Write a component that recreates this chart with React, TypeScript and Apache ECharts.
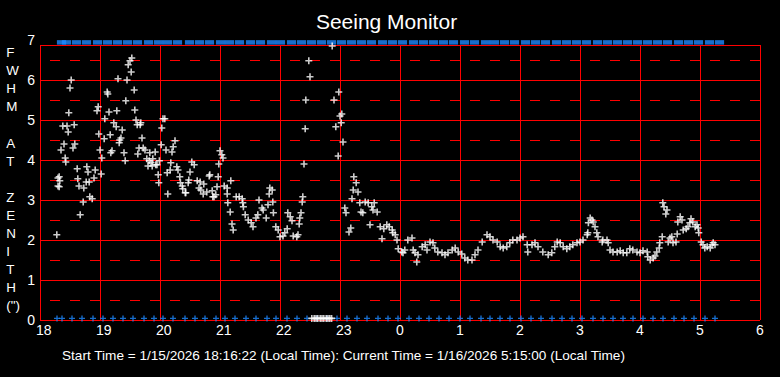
import React, { useEffect, useRef } from 'react';
import * as echarts from 'echarts';

const FONT = "'Liberation Sans', Arial, Helvetica, sans-serif";
const TITLE = 'Seeing Monitor';
const Y_TITLE_LINES = ['F', 'W', 'H', 'M', '', 'A', 'T', '', 'Z', 'E', 'N', 'I', 'T', 'H', '(")'];
const FOOTER = 'Start Time = 1/15/2026 18:16:22 (Local Time): Current Time = 1/16/2026 5:15:00 (Local Time)';

const xTickLabels = ['18', '19', '20', '21', '22', '23', '0', '1', '2', '3', '4', '5', '6'];
const yTickLabels = ['0', '1', '2', '3', '4', '5', '6', '7'];

// hours since midnight of start day (after midnight => +24)
const fwhmTimes = [
  18.28, 18.30, 18.30, 18.32, 18.32, 18.33, 18.35, 18.38, 18.40, 18.42, 18.43, 18.45, 18.47, 18.48, 18.50, 18.52,
  18.55, 18.57, 18.58, 18.62, 18.63, 18.65, 18.67, 18.72, 18.73, 18.77, 18.78, 18.80, 18.82, 18.83, 18.87, 18.90,
  18.92, 18.95, 18.97, 18.98, 19.00, 19.02, 19.03, 19.07, 19.08, 19.12, 19.13, 19.15, 19.17, 19.18, 19.20, 19.23,
  19.27, 19.28, 19.30, 19.32, 19.33, 19.35, 19.37, 19.40, 19.42, 19.43, 19.45, 19.47, 19.50, 19.52, 19.53, 19.57,
  19.58, 19.60, 19.62, 19.63, 19.65, 19.67, 19.68, 19.70, 19.72, 19.75, 19.78, 19.80, 19.82, 19.83, 19.85, 19.87,
  19.88, 19.92, 19.93, 19.95, 19.97, 19.98, 19.99, 20.02, 20.03, 20.05, 20.08, 20.10, 20.12, 20.13, 20.17, 20.18,
  20.20, 20.22, 20.25, 20.28, 20.30, 20.33, 20.34, 20.37, 20.38, 20.42, 20.43, 20.47, 20.48, 20.50, 20.53, 20.57,
  20.62, 20.65, 20.67, 20.68, 20.72, 20.73, 20.78, 20.82, 20.83, 20.87, 20.88, 20.90, 20.93, 20.95, 20.97, 20.98,
  21.00, 21.03, 21.05, 21.07, 21.12, 21.12, 21.13, 21.17, 21.18, 21.20, 21.22, 21.27, 21.32, 21.37, 21.38, 21.39,
  21.42, 21.47, 21.52, 21.55, 21.60, 21.63, 21.65, 21.70, 21.72, 21.77, 21.80, 21.82, 21.83, 21.87, 21.88, 21.89,
  21.93, 21.97, 22.00, 22.05, 22.08, 22.12, 22.13, 22.17, 22.20, 22.22, 22.28, 22.30, 22.32, 22.33, 22.35, 22.37,
  22.38, 22.40, 22.42, 22.43, 22.48, 22.50,
  22.53, 22.57, 22.60, 22.63, 22.67, 22.70, 22.73, 22.77, 22.80, 22.83, 22.86,
  22.87, 22.90, 22.93, 22.97, 22.98, 23.00, 23.02, 23.03, 23.05, 23.08, 23.10, 23.15, 23.18, 23.20, 23.22, 23.23,
  23.27, 23.30, 23.33, 23.35, 23.38, 23.42, 23.47, 23.50, 23.53, 23.55, 23.57, 23.62, 23.67, 23.70, 23.73, 23.78,
  23.82, 23.87, 23.88, 23.92, 23.95, 23.97, 24.03, 24.05, 24.08, 24.13, 24.20, 24.22, 24.25, 24.28, 24.30, 24.37,
  24.42, 24.45, 24.50, 24.55, 24.58, 24.63, 24.70, 24.75, 24.80, 24.87, 24.92, 24.97, 25.03, 25.08, 25.13, 25.20,
  25.25, 25.30, 25.37, 25.45, 25.50, 25.55, 25.62, 25.67, 25.72, 25.78, 25.83, 25.88, 25.95, 26.00, 26.05, 26.12,
  26.13, 26.20, 26.25, 26.30, 26.38, 26.47, 26.53, 26.58, 26.62, 26.67, 26.72, 26.78, 26.83, 26.88, 26.95, 27.00,
  27.05, 27.12, 27.13, 27.14, 27.17, 27.20, 27.22, 27.25, 27.28, 27.30, 27.37, 27.38, 27.45, 27.47, 27.50, 27.55,
  27.62, 27.67, 27.72, 27.78, 27.83, 27.88, 27.95, 28.00, 28.05, 28.12, 28.13, 28.17, 28.22, 28.25, 28.28, 28.32,
  28.33, 28.37, 28.38, 28.40, 28.43, 28.45, 28.47, 28.50, 28.53, 28.55, 28.60, 28.62, 28.63, 28.67, 28.70, 28.72,
  28.77, 28.80, 28.83, 28.85, 28.88, 28.92, 28.95, 28.97, 28.98, 29.02, 29.05, 29.08, 29.12, 29.17, 29.20, 29.22,
  29.25,
];

const fwhmValues = [
  2.13, 3.55, 3.35, 3.58, 3.33, 3.48, 4.25, 4.85, 4.40, 4.05, 3.95, 4.85, 4.70, 5.18, 5.80, 6.00,
  4.30, 4.88, 4.40, 3.78, 3.53, 3.35, 2.63, 2.95, 3.30, 3.45, 3.83, 3.70, 3.45, 3.08, 3.03, 3.55,
  3.75, 5.23, 5.33, 4.65, 4.25, 3.65, 4.05, 4.53, 5.03, 5.70, 5.65, 5.20, 4.63, 4.18, 4.23, 4.93,
  4.83, 5.23, 6.03, 4.43, 4.50, 4.55, 4.75, 4.18, 3.98, 5.48, 6.00, 6.38, 6.48, 6.20, 6.55, 5.75,
  5.25, 5.00, 4.88, 4.15, 4.30, 4.88, 4.93, 4.55, 4.30, 4.25, 4.03, 3.85, 3.98, 4.18, 3.93, 3.85,
  4.03, 4.20, 3.88, 3.88, 3.63, 3.43, 3.98, 4.38, 4.80, 5.03, 5.03, 4.25, 3.68, 3.15, 3.75, 3.93,
  4.20, 4.33, 4.48, 3.83, 3.75, 3.58, 3.43, 3.35, 3.28, 3.18, 3.18, 3.43, 3.50, 3.70, 3.95, 3.88,
  3.48, 3.30, 3.45, 3.25, 3.15, 3.40, 3.20, 3.60, 3.63, 3.23, 3.08, 3.08, 3.13, 3.33, 3.58, 3.90,
  4.23, 4.13, 4.05, 3.35, 3.30, 3.15, 2.93, 2.70, 3.48, 2.40, 2.25, 3.08, 3.08, 3.03, 2.93, 2.83,
  2.63, 2.50, 2.43, 2.33, 2.55, 2.63, 3.00, 2.80, 2.75, 2.55, 2.88, 3.15, 3.30, 3.25, 2.95, 2.68,
  2.33, 2.25, 2.08, 2.10, 2.18, 2.28, 2.68, 2.58, 2.48, 2.10, 2.08, 2.13, 2.40, 2.55, 2.68, 2.95,
  3.08, 3.90, 4.78, 5.50, 6.48, 6.08,
  0.04, 0.04, 0.04, 0.04, 0.04, 0.04, 0.04, 0.04, 0.04, 0.04, 0.04,
  6.85, 5.50, 4.83, 4.10, 5.70, 5.10, 4.93, 5.15, 4.45, 2.80, 2.68, 2.20, 2.30, 3.03, 3.25, 3.58,
  3.43, 3.20, 2.93, 2.70, 2.68, 2.95, 2.93, 2.38, 2.83, 2.75, 2.93, 2.70, 2.33, 2.03, 2.28, 2.38,
  2.33, 2.25, 2.18, 2.13, 2.00, 1.78, 1.70, 1.68, 1.75, 2.00, 2.05, 1.75, 1.68, 1.45, 1.63, 1.83,
  1.88, 1.75, 1.95, 1.93, 1.80, 1.70, 1.68, 1.63, 1.68, 1.75, 1.80, 1.70, 1.65, 1.55, 1.50, 1.50,
  1.63, 1.75, 1.95, 2.13, 2.08, 2.00, 1.95, 1.83, 1.80, 1.83, 1.93, 2.00, 2.00, 2.05, 2.08, 1.88,
  1.70, 1.88, 1.93, 1.83, 1.70, 1.63, 1.68, 1.83, 1.95, 1.93, 1.83, 1.78, 1.83, 1.88, 1.93, 1.95,
  2.00, 2.13, 2.18, 2.43, 2.55, 2.50, 2.45, 2.33, 2.18, 2.08, 1.95, 2.00, 2.00, 1.93, 1.75, 1.70,
  1.70, 1.73, 1.68, 1.68, 1.78, 1.75, 1.70, 1.68, 1.73, 1.70, 1.58, 1.50, 1.55, 1.60, 1.70, 1.80,
  1.93, 2.08, 2.93, 2.83, 2.65, 2.75, 1.95, 2.05, 2.08, 1.93, 1.95, 2.15, 2.45, 2.58, 2.50, 2.25,
  2.28, 2.33, 2.43, 2.53, 2.45, 2.33, 2.38, 2.30, 2.18, 1.95, 1.88, 1.80, 1.83, 1.80, 1.88, 1.93,
  1.88,
];

// status samples (blue markers), clock times
const statusTimes = [
  '18:17', '18:22', '18:32', '18:42', '18:53', '19:03', '19:13', '19:23', '19:33', '19:44', '19:54', '20:03',
  '20:13', '20:25', '20:35', '20:45', '20:56', '21:05', '21:15', '21:26', '21:36', '21:47', '21:56', '22:07',
  '22:17', '22:27', '22:37', '22:47', '22:57', '23:07', '23:17', '23:27', '23:38', '23:48', '23:58', '00:09',
  '00:19', '00:29', '00:39', '00:49', '01:00', '01:10', '01:21', '01:30', '01:40', '01:50', '02:01', '02:11',
  '02:21', '02:32', '02:42', '02:52', '03:02', '03:13', '03:23', '03:33', '03:43', '03:53', '04:03', '04:13',
  '04:23', '04:34', '04:44', '04:54', '05:05', '05:15',
];
const statusLowLevel = 0.04;
const statusHighLevel = 6.94;

const Y_MIN = 0;
const Y_MAX = 6.875;
const X_MIN = 18;
const X_MAX = 30;

const PLUS = 'path://M2.7,0H4.3V2.7H7V4.3H4.3V7H2.7V4.3H0V2.7H2.7Z';
const RED = '#ff0000';
const BLUE = '#1e88ff';

function clockToHour(s: string): number {
  const [h, m] = s.split(':').map(Number);
  const v = h + m / 60;
  return h < 12 ? v + 24 : v;
}

export default function App() {
  const ref = useRef<HTMLDivElement>(null);

  useEffect(() => {
    document.body.style.margin = '0';
    document.body.style.background = '#000';
    const chart = echarts.init(ref.current!, null, { renderer: 'svg' });
    const fwhmData = fwhmTimes.map((t, i) => [t, fwhmValues[i]]);
    const statusHours = statusTimes.map(clockToHour);
    const lowData = statusHours.map((t) => [t, statusLowLevel]);
    const highData = statusHours.map((t) => [t, statusHighLevel]);

    chart.setOption({
      animation: false,
      backgroundColor: '#000000',
      grid: { left: 40, right: 20, top: 45, bottom: 57, containLabel: false },
      xAxis: {
        type: 'value',
        min: X_MIN,
        max: X_MAX,
        interval: 1,
        axisLine: { show: false },
        axisTick: { show: false },
        splitLine: { show: true, lineStyle: { color: RED, width: 1 } },
        axisLabel: {
          color: '#ffffff',
          fontFamily: FONT,
          fontSize: 14,
          margin: 3,
          align: 'left',
          padding: [0, 0, 0, -4],
          formatter: (v: number) => xTickLabels[Math.round(v - X_MIN)] ?? '',
        },
      },
      yAxis: [
        {
          type: 'value',
          min: Y_MIN,
          max: Y_MAX,
          interval: 1,
          axisLine: { show: false },
          axisTick: { show: false },
          splitLine: { show: true, lineStyle: { color: RED, width: 1 } },
          axisLabel: {
            color: '#ffffff',
            fontFamily: FONT,
            fontSize: 14,
            margin: 5,
            formatter: (v: number) =>
              Number.isInteger(v) ? yTickLabels[v] : `{top|${yTickLabels[yTickLabels.length - 1]}}`,
            rich: {
              top: { color: '#ffffff', fontFamily: FONT, fontSize: 14, padding: [0, 0, 10, 0] },
            },
          },
        },
        {
          type: 'value',
          min: Y_MIN,
          max: Y_MAX,
          interval: 0.5,
          position: 'left',
          axisLine: { show: false },
          axisTick: { show: false },
          axisLabel: { show: false },
          splitLine: {
            show: true,
            lineStyle: { color: ['rgba(0,0,0,0)', RED], width: 1, type: [10, 10], dashOffset: 10 },
          },
        },
      ],
      series: [
        {
          type: 'scatter',
          name: 'status-low',
          data: lowData,
          symbol: PLUS,
          symbolSize: 6,
          itemStyle: { color: BLUE },
          clip: false,
          z: 2,
        },
        {
          type: 'scatter',
          name: 'status-high',
          data: highData,
          symbol: 'rect',
          symbolSize: [9.2, 4.5],
          symbolOffset: [4.5, 0],
          itemStyle: { color: BLUE },
          clip: false,
          z: 2,
        },
        {
          type: 'scatter',
          name: 'FWHM',
          data: fwhmData,
          symbol: PLUS,
          symbolSize: 7,
          itemStyle: { color: '#ffffff' },
          clip: false,
          z: 3,
        },
      ],
      graphic: [
        {
          type: 'text',
          x: 386.5,
          y: 21.5,
          style: { text: TITLE, fill: '#ffffff', font: `21px ${FONT}`, align: 'center', verticalAlign: 'middle' },
        },
        {
          type: 'text',
          x: 6.3,
          y: 43.5,
          style: {
            text: Y_TITLE_LINES.join('\n'),
            fill: '#ffffff',
            font: `13.4px ${FONT}`,
            lineHeight: 18.1,
            align: 'left',
            verticalAlign: 'top',
          },
        },
        {
          type: 'text',
          x: 62,
          y: 355.5,
          style: { text: FOOTER, fill: '#ffffff', font: `13.6px ${FONT}`, align: 'left', verticalAlign: 'middle' },
        },
      ],
    });
    return () => chart.dispose();
  }, []);

  return (
    <div style={{ position: 'fixed', left: 0, top: 0, width: 780, height: 377, background: '#000' }}>
      <div ref={ref} style={{ width: 780, height: 377 }} />
    </div>
  );
}
